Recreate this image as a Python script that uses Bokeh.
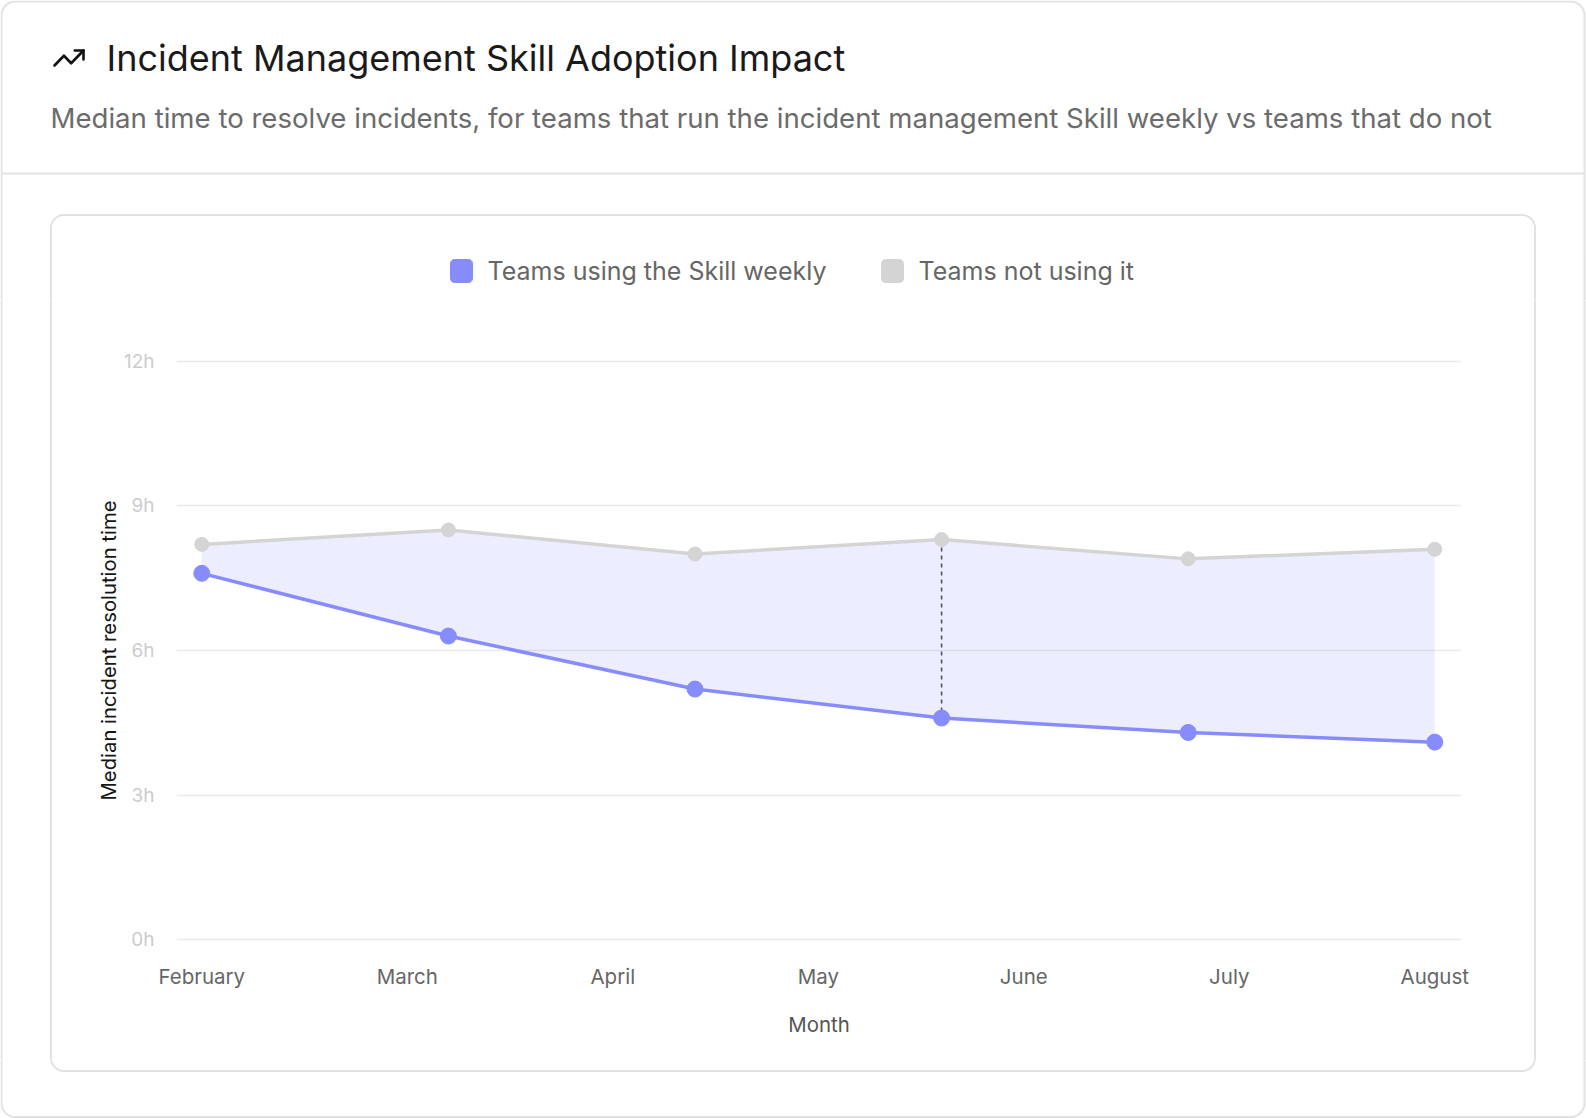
import math
from bokeh.plotting import figure
from bokeh.layouts import column, row
from bokeh.models import FixedTicker, PrintfTickFormatter, Range1d
from bokeh.core.properties import value
from bokeh.embed import file_html
from bokeh.resources import INLINE

# ---------------- data ----------------
months = ["February", "March", "April", "May", "June", "July", "August"]
teams_using = [7.6, 6.3, 5.2, 4.6, 4.3, 4.1]          # hours
teams_not_using = [8.2, 8.5, 8.0, 8.3, 7.9, 8.1]      # hours
y_ticks = [0, 3, 6, 9, 12]
highlight_index = 3
title_text = "Incident Management Skill Adoption Impact"
subtitle_text = ("Median time to resolve incidents, for teams that run the incident "
                 "management Skill weekly vs teams that do not")
legend_labels = ["Teams using the Skill weekly", "Teams not using it"]

# six observations spread evenly across the seven month ticks
n_obs = len(teams_using)
x_obs = [int(i * (len(months) - 1)) for i in range(n_obs)]
month_ticks = [int(j * (n_obs - 1)) for j in range(len(months))]

# ---------------- style ----------------
FONT = "Inter"
BLUE = "#878cfd"
GREY = "#d4d4d4"
BORDER = "#e2e2e2"
W, H = 1586, 1118

# page split (pixels): header | left strip, chart, right strip | bottom strip
HEAD_B = 300
CHART_B = 1060
CL, CR = 52, 1533
FL, FR, FT, FB = 176, 1461, 351, 949   # plot frame


def rrect_path(x0, y0, x1, y1, r, n=16):
    pts = []
    corners = [(x1 - r, y0 + r, -90, 0), (x1 - r, y1 - r, 0, 90),
               (x0 + r, y1 - r, 90, 180), (x0 + r, y0 + r, 180, 270)]
    for ccx, ccy, a0, a1 in corners:
        for k in range(n + 1):
            a = math.radians(a0 + (a1 - a0) * k / n)
            pts.append((ccx + r * math.cos(a), ccy + r * math.sin(a)))
    pts.append(pts[0])
    return [q[0] for q in pts], [q[1] for q in pts]


OUTER = rrect_path(1, 1, 1584, 1116.5, 14)
INNER = rrect_path(50.5, 214.5, 1534.5, 1070.5, 13)


def deco_fig(x0, x1, y0, y1):
    f = figure(width=x1 - x0, height=y1 - y0, x_range=Range1d(x0, x1),
               y_range=Range1d(y1, y0), output_backend="svg", toolbar_location=None,
               min_border=0, x_axis_type=None, y_axis_type=None, title_location=None,
               frame_align=False)
    f.outline_line_color = None
    f.background_fill_color = "white"
    f.border_fill_color = "white"
    for xs, ys in (OUTER, INNER):
        f.line(xs, ys, line_color=BORDER, line_width=2)
    return f


# ---------------- header ----------------
head = deco_fig(0, W, 0, HEAD_B)
head.line([1, 1584], [173, 173], line_color=BORDER, line_width=2)
icon_paths = [[(22, 7), (13.5, 15.5), (8.5, 10.5), (2, 17)], [(16, 7), (22, 7), (22, 13)]]
for path in icon_paths:
    head.line([54 + (u - 2) * 1.45 for u, _ in path], [50 + (v - 7) * 1.5 for _, v in path],
              line_color="#111111", line_width=2.6, line_join="round", line_cap="round")
head.text(x=[106], y=[57], text=[title_text], text_font=value(FONT), text_font_size="36px",
          text_color="#1a1a1a", text_baseline="middle", text_align="left")
head.text(x=[50], y=[117], text=[subtitle_text], text_font=value(FONT),
          text_font_size="27.6px", text_color="#6b6b6b", text_baseline="middle",
          text_align="left")
legend_items = [(legend_labels[0], BLUE, 450, 487), (legend_labels[1], GREY, 881, 918)]
for lab, col, bx, tx in legend_items:
    xs, ys = rrect_path(bx, 259, bx + 22, 282, 4, n=4)
    head.patch(xs, ys, fill_color=col, line_color=col, line_width=1)
    head.text(x=[tx], y=[270], text=[lab], text_font=value(FONT), text_font_size="25px",
              text_color="#666666", text_baseline="middle", text_align="left")

left = deco_fig(0, CL, HEAD_B, CHART_B)
right = deco_fig(CR, W, HEAD_B, CHART_B)
bottom = deco_fig(0, W, CHART_B, H)

# ---------------- chart ----------------
p = figure(width=CR - CL, height=CHART_B - HEAD_B, output_backend="svg",
           toolbar_location=None, title_location=None, frame_align=False,
           x_range=Range1d(-0.6156, 30.65), y_range=Range1d(-0.2, 12.2),
           min_border_left=FL - CL, min_border_right=CR - FR,
           min_border_top=FT - HEAD_B, min_border_bottom=CHART_B - FB)
p.outline_line_color = None
p.background_fill_color = "white"
p.border_fill_color = "white"

p.yaxis.ticker = FixedTicker(ticks=y_ticks)
p.yaxis.formatter = PrintfTickFormatter(format="%dh")
p.yaxis.axis_line_color = None
p.yaxis.major_tick_line_color = None
p.yaxis.minor_tick_line_color = None
p.yaxis.major_label_text_color = "#cccccc"
p.yaxis.major_label_text_font = FONT
p.yaxis.major_label_text_font_size = "19px"
p.yaxis.major_label_standoff = 16
p.yaxis.axis_label = "Median incident resolution time"
p.yaxis.axis_label_text_font = FONT
p.yaxis.axis_label_text_font_size = "20.3px"
p.yaxis.axis_label_text_font_style = "normal"
p.yaxis.axis_label_text_color = "#161616"
p.yaxis.axis_label_standoff = 0

p.xaxis.ticker = FixedTicker(ticks=month_ticks)
p.xaxis.major_label_overrides = {t: m for t, m in zip(month_ticks, months)}
p.xaxis.axis_line_color = None
p.xaxis.major_tick_line_color = None
p.xaxis.minor_tick_line_color = None
p.xaxis.major_label_text_color = "#666666"
p.xaxis.major_label_text_font = FONT
p.xaxis.major_label_text_font_size = "20.5px"
p.xaxis.major_label_standoff = 8
p.xaxis.axis_label = "Month"
p.xaxis.axis_label_text_font = FONT
p.xaxis.axis_label_text_font_size = "20.4px"
p.xaxis.axis_label_text_font_style = "normal"
p.xaxis.axis_label_text_color = "#555555"
p.xaxis.axis_label_standoff = 20

p.xgrid.grid_line_color = None
p.ygrid.grid_line_color = "#e9e9e9"
p.ygrid.grid_line_width = 1.5

p.varea(x=x_obs, y1=teams_using, y2=teams_not_using, fill_color=BLUE, fill_alpha=0.16)
p.line(x_obs, teams_not_using, line_color=GREY, line_width=3.5)
p.line(x_obs, teams_using, line_color=BLUE, line_width=3.5)
p.segment(x0=[x_obs[highlight_index]], y0=[teams_not_using[highlight_index]],
          x1=[x_obs[highlight_index]], y1=[teams_using[highlight_index]],
          line_color="#555555", line_width=1.6, line_dash="4 4")
p.scatter(x_obs, teams_not_using, size=14, fill_color=GREY, line_color=GREY)
p.scatter(x_obs, teams_using, size=16, fill_color=BLUE, line_color=BLUE)

page = column(head, row(left, p, right, spacing=0), bottom, spacing=0)
open("out.html", "w").write(file_html(page, INLINE))
